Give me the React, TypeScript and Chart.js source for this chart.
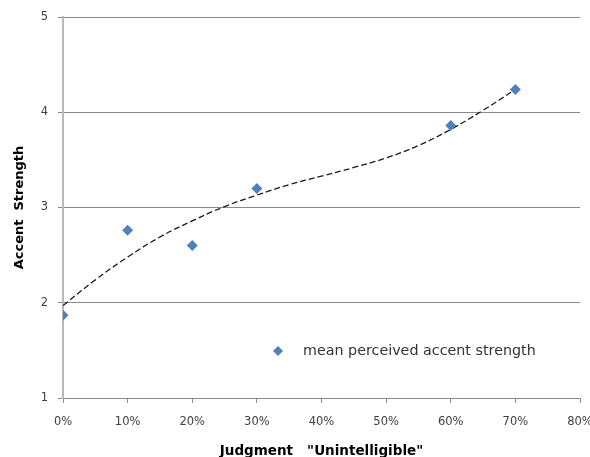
import React, { useEffect, useRef } from 'react';
import { Chart, registerables } from 'chart.js';

Chart.register(...registerables);

// Observed series
const judgmentPct = [0, 10, 20, 30, 60, 70];
const accentStrength = [1.87, 2.76, 2.6, 3.2, 3.86, 4.24];

// Trendline
const trendPct = [0, 5, 10, 15, 20, 25, 30, 35, 40, 45, 50, 55, 60, 65, 70];
const trendStrength = [1.97, 2.24, 2.48, 2.69, 2.86, 3.01, 3.13, 3.24, 3.33, 3.42, 3.52, 3.65, 3.82, 4.02, 4.24];

const xTickValues = [0, 10, 20, 30, 40, 50, 60, 70, 80];
const yTickValues = [1, 2, 3, 4, 5];

const seriesLabel = 'mean perceived accent strength';
const xTitle = 'Judgment   "Unintelligible"';
const yTitle = 'Accent  Strength';

const FONT = "'DejaVu Sans', Verdana, sans-serif";
const BLUE = '#4F81BD';

const legendPlugin = {
  id: 'insideLegend',
  afterDraw(chart: any) {
    const { ctx, chartArea } = chart;
    const mx = chartArea.left + 215;
    const my = chartArea.top + 334;
    const r = 5;
    ctx.save();
    ctx.fillStyle = BLUE;
    ctx.beginPath();
    ctx.moveTo(mx, my - r);
    ctx.lineTo(mx + r, my);
    ctx.lineTo(mx, my + r);
    ctx.lineTo(mx - r, my);
    ctx.closePath();
    ctx.fill();
    ctx.fillStyle = '#333333';
    ctx.font = `14.3px ${FONT}`;
    ctx.textBaseline = 'middle';
    ctx.textAlign = 'left';
    ctx.fillText(seriesLabel, mx + 25, my);
    ctx.restore();
  },
};

export default function App() {
  const ref = useRef<HTMLCanvasElement | null>(null);

  useEffect(() => {
    document.body.style.margin = '0';
    if (!ref.current) return;
    const chart = new Chart(ref.current, {
      type: 'scatter',
      data: {
        datasets: [
          {
            label: seriesLabel,
            data: judgmentPct.map((x, i) => ({ x, y: accentStrength[i] })),
            pointStyle: 'rectRot',
            pointRadius: 5.5,
            pointHoverRadius: 5.5,
            backgroundColor: BLUE,
            borderColor: BLUE,
            borderWidth: 0,
            showLine: false,
          },
          {
            label: 'trend',
            data: trendPct.map((x, i) => ({ x, y: trendStrength[i] })),
            showLine: true,
            pointRadius: 0,
            borderColor: '#1a1a1a',
            borderWidth: 1.3,
            borderDash: [6, 3],
            tension: 0.4,
            fill: false,
          } as any,
        ],
      },
      options: {
        responsive: false,
        animation: false,
        layout: { padding: { top: 17, right: 10, left: 0, bottom: 0 } },
        plugins: {
          legend: { display: false },
          tooltip: { enabled: false },
        },
        scales: {
          x: {
            type: 'linear',
            min: 0,
            max: 80,
            afterBuildTicks: (s: any) => {
              s.ticks = xTickValues.map((v) => ({ value: v }));
            },
            afterFit: (s: any) => {
              s.height = 59;
              s.paddingLeft = 0;
              s.paddingRight = 0;
            },
            ticks: {
              callback: (v: any) => `${v}%`,
              font: { family: FONT, size: 11.5 },
              color: '#404040',
              padding: 12,
              maxRotation: 0,
              autoSkip: false,
            },
            grid: {
              drawOnChartArea: false,
              drawTicks: true,
              tickLength: 5,
              color: '#8a8a8a',
            },
            border: { display: true, color: '#8a8a8a', width: 1 },
            title: {
              display: true,
              text: xTitle,
              font: { family: FONT, size: 13.5, weight: 'bold' },
              color: '#000000',
              padding: { top: 0, bottom: -2.5 },
            },
          },
          y: {
            type: 'linear',
            min: 1,
            max: 5,
            afterBuildTicks: (s: any) => {
              s.ticks = yTickValues.map((v) => ({ value: v }));
            },
            afterFit: (s: any) => {
              s.width = 63;
              s.paddingTop = 0;
              s.paddingBottom = 0;
            },
            ticks: {
              font: { family: FONT, size: 11.5 },
              color: '#404040',
              padding: 10,
            },
            grid: {
              drawOnChartArea: true,
              drawTicks: true,
              tickLength: 5,
              color: '#8a8a8a',
            },
            border: { display: true, color: '#b8b8b8', width: 2 },
            title: {
              display: true,
              text: yTitle,
              font: { family: FONT, size: 13, weight: 'bold' },
              color: '#000000',
              padding: { top: 12, bottom: 0 },
            },
          },
        },
      },
      plugins: [legendPlugin],
    });
    return () => chart.destroy();
  }, []);

  return (
    <div style={{ width: 590, height: 457, position: 'relative', background: '#ffffff' }}>
      <canvas ref={ref} width={590} height={457} />
    </div>
  );
}
